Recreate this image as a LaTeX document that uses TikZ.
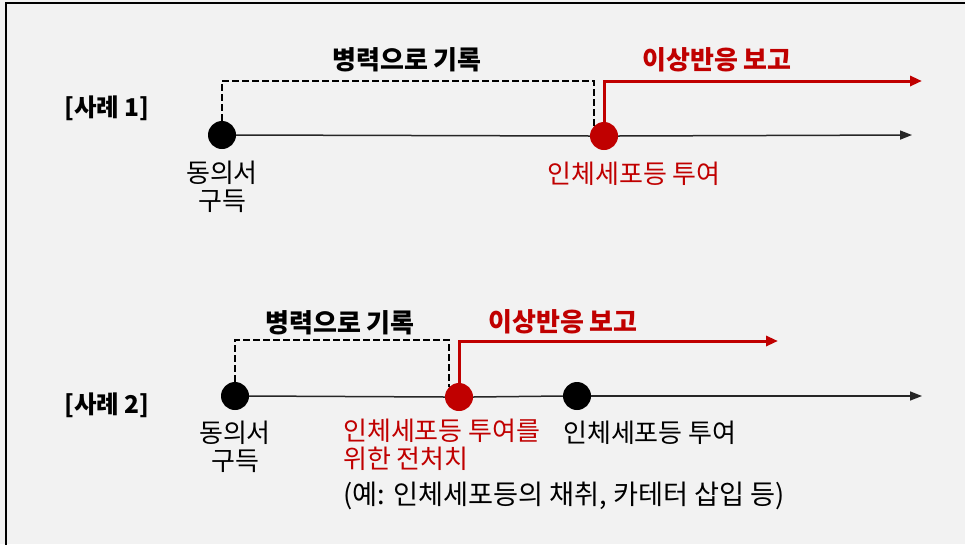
\documentclass[tikz,border=0pt]{standalone}
\usepackage{fontspec}
\newfontfamily\kr{Noto Sans CJK KR}
\usetikzlibrary{arrows.meta}
\definecolor{bg}{HTML}{F2F2F2}
\definecolor{myred}{HTML}{C00000}
\begin{document}
\begin{tikzpicture}[x=1pt,y=-1pt,
  lbl/.style={font=\kr\fontsize{26}{28}\selectfont, inner sep=0pt},
  boldlbl/.style={font=\kr\bfseries\fontsize{26}{28}\selectfont, inner sep=0pt},
  caselbl/.style={font=\kr\bfseries\fontsize{24.5}{28}\selectfont, inner sep=0pt},
  dot/.style={circle, fill=black, minimum size=28pt, inner sep=0pt},
  reddot/.style={dot, fill=myred},
  timeline/.style={line width=1.5pt, draw=black!85, -{Triangle[length=12pt,width=9pt]}},
  plainline/.style={line width=1.5pt, draw=black!85},
  dashline/.style={line width=2.3pt, draw=black, dash pattern=on 7pt off 3pt},
  redline/.style={line width=3pt, draw=myred, -{Triangle[length=12pt,width=10pt]}}]
\useasboundingbox (0,0) rectangle (965,544);
\fill[bg] (0,0) rectangle (965,544);
\draw[line width=2.5pt, black] (6,560) -- (6,3) -- (980,3);

% ---------- Case 1 ----------
\node[caselbl] (c1) at (107,108) {[사례 1]};
\node[dot] (a1) at (222,135) {};
\node[reddot] (b1) at (604,136) {};
\coordinate (e1) at (912,135);
\coordinate (r1) at (922,81);
\draw[plainline] (a1.east) -- (b1.west);
\draw[timeline] (b1.east) -- (e1);
\draw[dashline] (a1.north) |- (b1.north west |- 0,81) -- (b1.north west);
\draw[redline] (b1.north) |- (r1);
\node[boldlbl] (h1) at (407,60) {병력으로 기록};
\node[boldlbl, text=myred] (s1) at (717,60) {이상반응 보고};
\node[lbl, align=center] (t1) at (222,187) {동의서\\구득};
\node[lbl, text=myred] (u1) at (634,174) {인체세포등 투여};

% ---------- Case 2 ----------
\node[caselbl] (c2) at (107,405) {[사례 2]};
\node[dot] (a2) at (235,396) {};
\node[reddot] (b2) at (459,397) {};
\node[dot] (d2) at (577,396) {};
\coordinate (e2) at (922,396);
\coordinate (r2) at (778,341);
\draw[plainline] (a2.east) -- (b2.west);
\draw[plainline] (b2.east) -- (d2.west);
\draw[timeline] (d2.east) -- (e2);
\draw[dashline] (a2.north) |- (b2.north west |- 0,340) -- (b2.north west);
\draw[redline] (b2.north) |- (r2);
\node[boldlbl] (h2) at (340,323) {병력으로 기록};
\node[boldlbl, text=myred] (s2) at (563,322) {이상반응 보고};
\node[lbl, align=center] (t2) at (235,447) {동의서\\구득};
\node[lbl, align=left, text=myred, anchor=north west] (u2) at (343,419) {인체세포등 투여를\\위한 전처치};
\node[lbl, anchor=west] (v2) at (563,433) {인체세포등 투여};
\node[lbl, font=\kr\fontsize{27.2}{30}\selectfont, anchor=west] (w2) at (343,496) {(예: 인체세포등의 채취, 카테터 삽입 등)};
\end{tikzpicture}
\end{document}
